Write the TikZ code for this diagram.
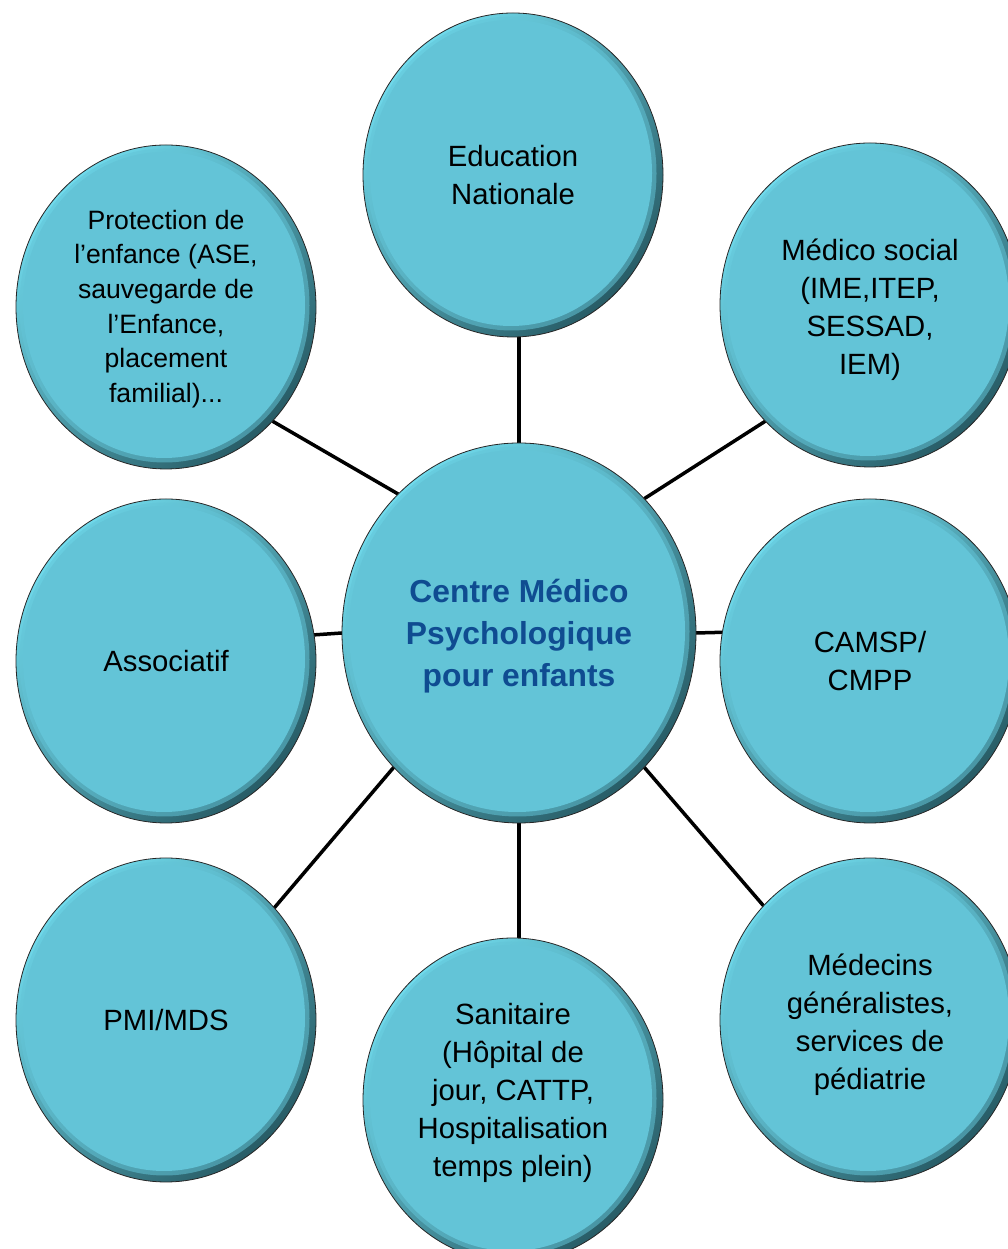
\documentclass[tikz,border=0pt]{standalone}
\usepackage{fontspec}
\setmainfont{Liberation Sans}
\usetikzlibrary{shapes.geometric,calc,backgrounds}
\definecolor{bubblefill}{RGB}{99,196,215}
\definecolor{rimlight}{RGB}{112,218,236}
\definecolor{rimdark}{RGB}{40,92,102}
\definecolor{titleblue}{RGB}{15,76,145}
\tikzset{
 bubblenode/.style={ellipse, draw=black!85, line width=0.8pt, inner sep=0pt, outer sep=0pt,
   top color=rimlight, bottom color=rimdark, shading angle=45,
   path picture={
     \fill[bubblefill, opacity=0.55] let \p1=(path picture bounding box.north east), \p2=(path picture bounding box.south west) in
       ($(\p1)!0.5!(\p2)+(-1.5pt,1.5pt)$) ellipse [x radius={(\x1-\x2)/2-5pt}, y radius={(\y1-\y2)/2-5pt}];
     \fill[bubblefill] let \p1=(path picture bounding box.north east), \p2=(path picture bounding box.south west) in
       ($(\p1)!0.5!(\p2)+(-2pt,2pt)$) ellipse [x radius={(\x1-\x2)/2-9pt}, y radius={(\y1-\y2)/2-9pt}];
   }},
 sat/.style={bubblenode, minimum width=300pt, minimum height=324pt},
 hub/.style={bubblenode, minimum width=354pt, minimum height=380pt},
 bubbletext/.style={align=center, inner sep=0pt, font=\fontsize{29.3}{38}\selectfont},
 smalltext/.style={align=center, inner sep=0pt, font=\fontsize{26.6}{34.6}\selectfont},
 hubtext/.style={align=center, inner sep=0pt, font=\fontsize{31.8}{42}\selectfont\bfseries, text=titleblue},
 link/.style={line width=3.5pt, black}
}
\begin{document}
\begin{tikzpicture}[x=1pt,y=1pt]
\useasboundingbox (0,0) rectangle (1008,1249);
\clip (0,0) rectangle (1008,1249);
\node[hub, label={[hubtext, yshift=-3pt]center:Centre Médico\\Psychologique\\pour enfants}] (hub) at (519,616) {};
\node[sat, label={[bubbletext]center:Education\\Nationale}] (edu) at (513,1074) {};
\node[sat, label={[bubbletext, yshift=-5pt]center:Médico social\\(IME,ITEP,\\SESSAD,\\IEM)}] (medsoc) at (870,944) {};
\node[sat, label={[smalltext, yshift=-2pt]center:Protection de\\l’enfance (ASE,\\sauvegarde de\\l’Enfance,\\placement\\familial)...}] (prot) at (166,942) {};
\node[sat, label={[bubbletext]center:Associatif}] (assoc) at (166,588) {};
\node[sat, label={[bubbletext]center:CAMSP/\\CMPP}] (camsp) at (870,588) {};
\node[sat, label={[bubbletext]center:PMI/MDS}] (pmi) at (166,229) {};
\node[sat, label={[bubbletext, yshift=-5pt]center:Médecins\\généralistes,\\services de\\pédiatrie}] (medg) at (870,229) {};
\node[sat, label={[bubbletext, yshift=7pt]center:Sanitaire\\(Hôpital de\\jour, CATTP,\\Hospitalisation\\temps plein)}] (sanit) at (513,149) {};
\begin{scope}[on background layer]
\draw[link] (hub.north) -- (hub.north |- edu.south);
\draw[link] (hub.47) -- (medsoc.228);
\draw[link] (hub.131) -- (prot.313);
\draw[link] (hub.west) -- (assoc.10);
\draw[link] (hub.east) -- (camsp.169);
\draw[link] (hub.227) -- (pmi.46);
\draw[link] (hub.313) -- (medg.133);
\draw[link] (hub.south) -- (hub.south |- sanit.north);
\end{scope}
\end{tikzpicture}
\end{document}
